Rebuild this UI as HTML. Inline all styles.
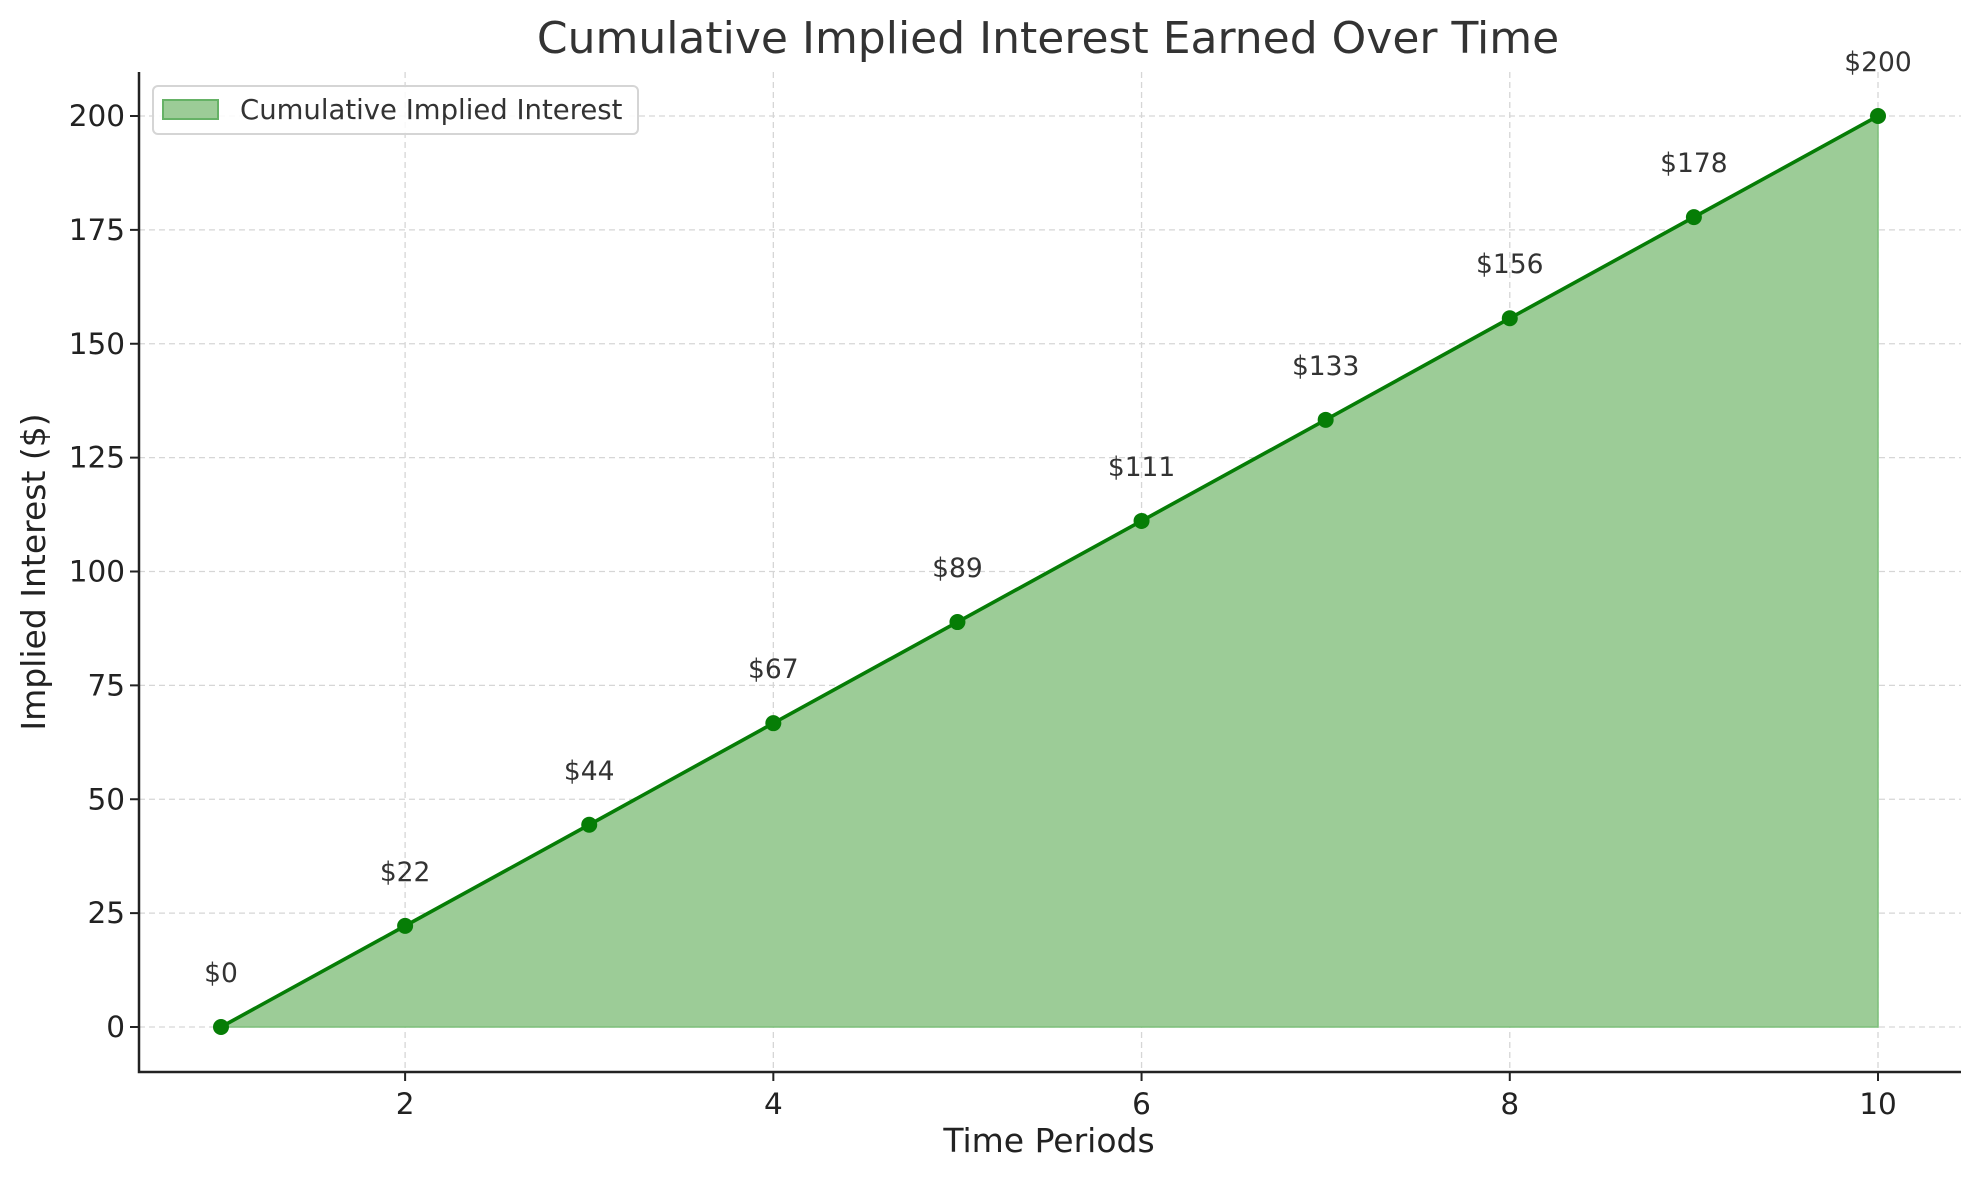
<!DOCTYPE html>
<html><head><meta charset="utf-8"><style>
html,body{margin:0;padding:0;background:#fff;}
svg{display:block;font-family:"DejaVu Sans","Liberation Sans",sans-serif;}
</style></head><body>
<svg id="chart" width="1980" height="1180" viewBox="0 0 1980 1180">
<text x="1048" y="53" text-anchor="middle" font-size="44" fill="#333">Cumulative Implied Interest Earned Over Time</text>
<g id="grid"></g>
<g id="area"></g>
<g id="axes"></g>
<text x="1049" y="1152" text-anchor="middle" font-size="33" fill="#222">Time Periods</text>
<text transform="translate(45,572) rotate(-90)" text-anchor="middle" font-size="33" fill="#222">Implied Interest ($)</text>
<g>
<rect x="153" y="86" width="485" height="48" rx="5" fill="#fff" fill-opacity="0.85" stroke="#d5d5d5" stroke-width="2"/>
<rect x="163" y="100" width="55" height="19" fill="#9ccc97" stroke="#66b266" stroke-width="2"/>
<text x="240" y="119" font-size="27.5" fill="#333">Cumulative Implied Interest</text>
</g>
</svg>
<script>
const periods=[1,2,3,4,5,6,7,8,9,10];
const interest=[0,22.2,44.4,66.7,88.9,111.1,133.3,155.6,177.8,200];
const valueLabels=["$0","$22","$44","$67","$89","$111","$133","$156","$178","$200"];
const yTicks=[0,25,50,75,100,125,150,175,200];
const xTicks=[2,4,6,8,10];

const L=139,R=1961,T=72,B=1072;
const X0=221,X1=1878,Y0=1027,Y1=116;
const xs=v=>X0+(v-1)*(X1-X0)/9;
const ys=v=>Y0-v*(Y0-Y1)/200;
const NS="http://www.w3.org/2000/svg";
function mk(tag,attrs,parent){const e=document.createElementNS(NS,tag);for(const k in attrs)e.setAttribute(k,attrs[k]);parent.appendChild(e);return e;}
const grid=document.getElementById('grid'),area=document.getElementById('area'),axes=document.getElementById('axes');

yTicks.forEach(t=>{
 const y=ys(t);
 const g=mk('line',{x1:L,x2:R,y1:y,y2:y,stroke:'#d6d6d6','stroke-width':1.3,'stroke-dasharray':'6,4'},grid);
 
 
 const tk=mk('line',{x1:L-9,x2:L,y1:y,y2:y,stroke:'#222','stroke-width':2},axes);
 
 
 const lb=mk('text',{x:L-14,y:y+10,'text-anchor':'end','font-size':29.5,fill:'#222'},axes);
 lb.textContent=t;
 
 
});
xTicks.forEach(t=>{
 const x=xs(t);
 const g=mk('line',{x1:x,x2:x,y1:T,y2:B,stroke:'#d6d6d6','stroke-width':1.3,'stroke-dasharray':'6,4'},grid);
 
 
 const tk=mk('line',{x1:x,x2:x,y1:B,y2:B+9,stroke:'#222','stroke-width':2},axes);
 
 
 const lb=mk('text',{x:x,y:B+42,'text-anchor':'middle','font-size':29.5,fill:'#222'},axes);
 lb.textContent=t;
 
 
});

let pts=periods.map((p,i)=>xs(p)+','+ys(interest[i]));
const poly=mk('polygon',{points:pts.join(' ')+' '+xs(periods[periods.length-1])+','+ys(0)+' '+xs(periods[0])+','+ys(0),fill:'#9ccc97',stroke:'#7dbf7a','stroke-width':1.5},area);


const line=mk('polyline',{points:pts.join(' '),fill:'none',stroke:'#067d06','stroke-width':3.6},area);


periods.forEach((p,i)=>{
 const c=mk('circle',{cx:xs(p),cy:ys(interest[i]),r:8,fill:'#067d06'},area);
 
 
 const t=mk('text',{x:xs(p),y:ys(interest[i])-45,'text-anchor':'middle','font-size':26.5,fill:'#333'},area);
 t.textContent=valueLabels[i];
 
 
});
const ax=mk('path',{d:`M${L},${T} L${L},${B} L${R},${B}`,fill:'none',stroke:'#222','stroke-width':2.5},axes);


</script>
</body></html>
